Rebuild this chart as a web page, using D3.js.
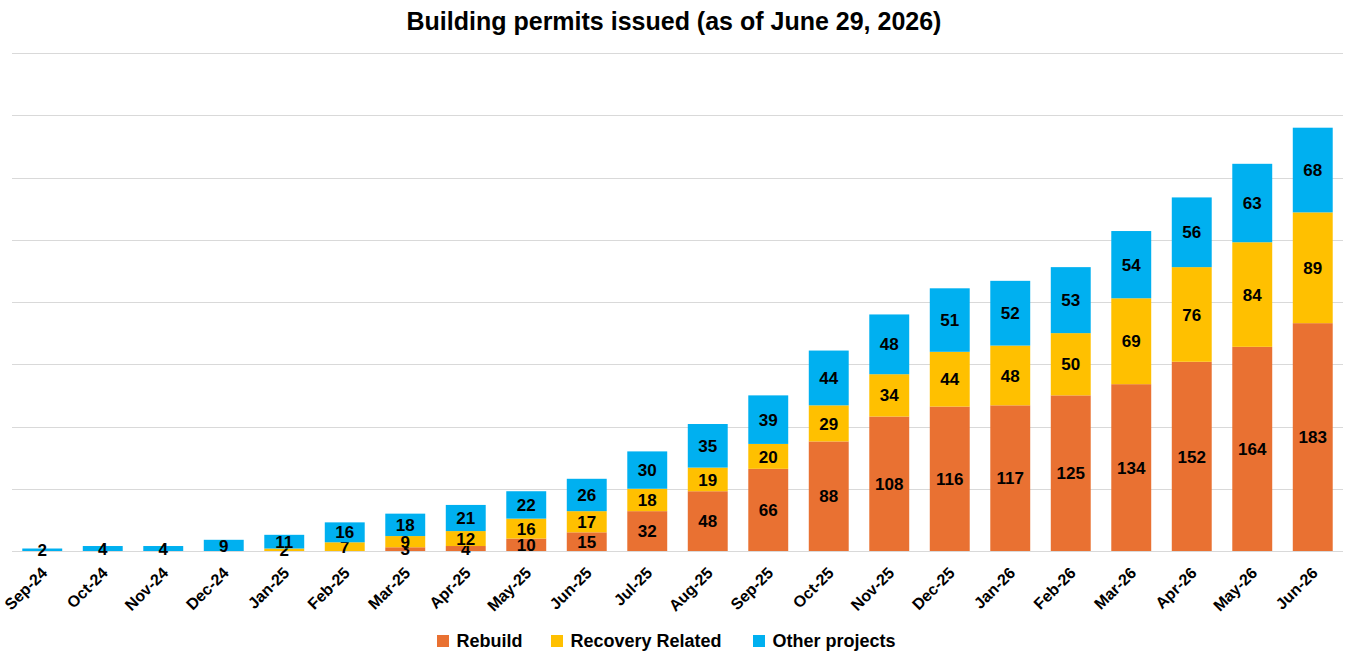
<!doctype html>
<html lang="en">
<head>
  <meta charset="UTF-8">
  <title>Building permits issued</title>
  <style>
    * { padding: 0; margin: 0; }
    body { background: #fff; }
    svg text { font-family: "Liberation Sans", Arial, sans-serif; font-weight: 700; fill: #000; }
  </style>
  <script src="https://cdn.jsdelivr.net/npm/d3@7"></script>
</head>
<body>
  <svg width="1348" height="658"></svg>
  <script>
    var months = ["Sep-24", "Oct-24", "Nov-24", "Dec-24", "Jan-25", "Feb-25", "Mar-25", "Apr-25",
      "May-25", "Jun-25", "Jul-25", "Aug-25", "Sep-25", "Oct-25", "Nov-25", "Dec-25",
      "Jan-26", "Feb-26", "Mar-26", "Apr-26", "May-26", "Jun-26"];
    var rebuild = [0, 0, 0, 0, 0, 0, 3, 4, 10, 15, 32, 48, 66, 88, 108, 116, 117, 125, 134, 152, 164, 183];
    var recovery = [0, 0, 0, 0, 2, 7, 9, 12, 16, 17, 18, 19, 20, 29, 34, 44, 48, 50, 69, 76, 84, 89];
    var other = [2, 4, 4, 9, 11, 16, 18, 21, 22, 26, 30, 35, 39, 44, 48, 51, 52, 53, 54, 56, 63, 68];
    var seriesNames = ["Rebuild", "Recovery Related", "Other projects"];
    var yTicks = [0, 50, 100, 150, 200, 250, 300, 350, 400];

    var colors = ["#E97132", "#FFC000", "#00B0F0"];
    var marge = { top: 53, bottom: 107, left: 12, right: 5 };
    var width = 1348, height = 658;

    var svg = d3.select("svg");

    var rows = months.map(function (m, i) {
      return { month: m, "Rebuild": rebuild[i], "Recovery Related": recovery[i], "Other projects": other[i] };
    });
    var stacked = d3.stack().keys(seriesNames)(rows);

    var x = d3.scaleBand()
      .domain(months)
      .range([marge.left, width - marge.right])
      .paddingInner(0.34)
      .paddingOuter(0.17);

    var y = d3.scaleLinear()
      .domain([0, 400])
      .range([height - marge.bottom, marge.top]);

    // gridlines
    svg.append("g")
      .selectAll("line")
      .data(yTicks)
      .enter()
      .append("line")
      .attr("x1", marge.left)
      .attr("x2", width - marge.right)
      .attr("y1", function (d) { return Math.round(y(d)) + 0.5; })
      .attr("y2", function (d) { return Math.round(y(d)) + 0.5; })
      .attr("stroke", "#d9d9d9")
      .attr("stroke-width", 1);

    // bars
    var layers = svg.append("g")
      .selectAll("g")
      .data(stacked)
      .enter()
      .append("g")
      .attr("fill", function (d, i) { return colors[i]; });

    layers.selectAll("rect")
      .data(function (d) { return d; })
      .enter()
      .append("rect")
      .attr("x", function (d) { return x(d.data.month); })
      .attr("width", x.bandwidth())
      .attr("y", function (d) { return y(d[1]); })
      .attr("height", function (d) { return y(d[0]) - y(d[1]); });

    // data labels (zero segments get none)
    layers.selectAll("text")
      .data(function (d) { return d.filter(function (p) { return p[1] - p[0] > 0; }); })
      .enter()
      .append("text")
      .attr("x", function (d) { return x(d.data.month) + x.bandwidth() / 2; })
      .attr("y", function (d) { return (y(d[0]) + y(d[1])) / 2; })
      .attr("dy", "0.36em")
      .attr("text-anchor", "middle")
      .style("font-size", "17px")
      .text(function (d) { return d[1] - d[0]; });

    // x axis
    var xAxis = d3.axisBottom(x).tickSize(0).tickPadding(0);
    var gx = svg.append("g")
      .attr("transform", "translate(0," + y(0) + ")")
      .call(xAxis);
    gx.select(".domain").remove();
    gx.selectAll("text")
      .attr("text-anchor", "end")
      .attr("dy", null)
      .attr("y", 0)
      .attr("transform", "translate(6,23) rotate(-45)")
      .style("font-size", "16px")
      .style("font-family", "\"Liberation Sans\", Arial, sans-serif")
      .style("font-weight", "700");

    // title
    svg.append("text")
      .attr("x", width / 2)
      .attr("y", 30)
      .attr("text-anchor", "middle")
      .style("font-size", "25px")
      .text("Building permits issued (as of June 29, 2026)");

    // legend
    var legendX = [437, 551, 753];
    var legend = svg.append("g")
      .selectAll("g")
      .data(seriesNames)
      .enter()
      .append("g")
      .attr("transform", function (d, i) { return "translate(" + legendX[i] + ",635)"; });
    legend.append("rect")
      .attr("width", 12)
      .attr("height", 12)
      .attr("fill", function (d, i) { return colors[i]; });
    legend.append("text")
      .attr("x", 19.5)
      .attr("y", 6)
      .attr("dy", "0.36em")
      .style("font-size", "18px")
      .text(function (d) { return d; });
  </script>
</body>
</html>
